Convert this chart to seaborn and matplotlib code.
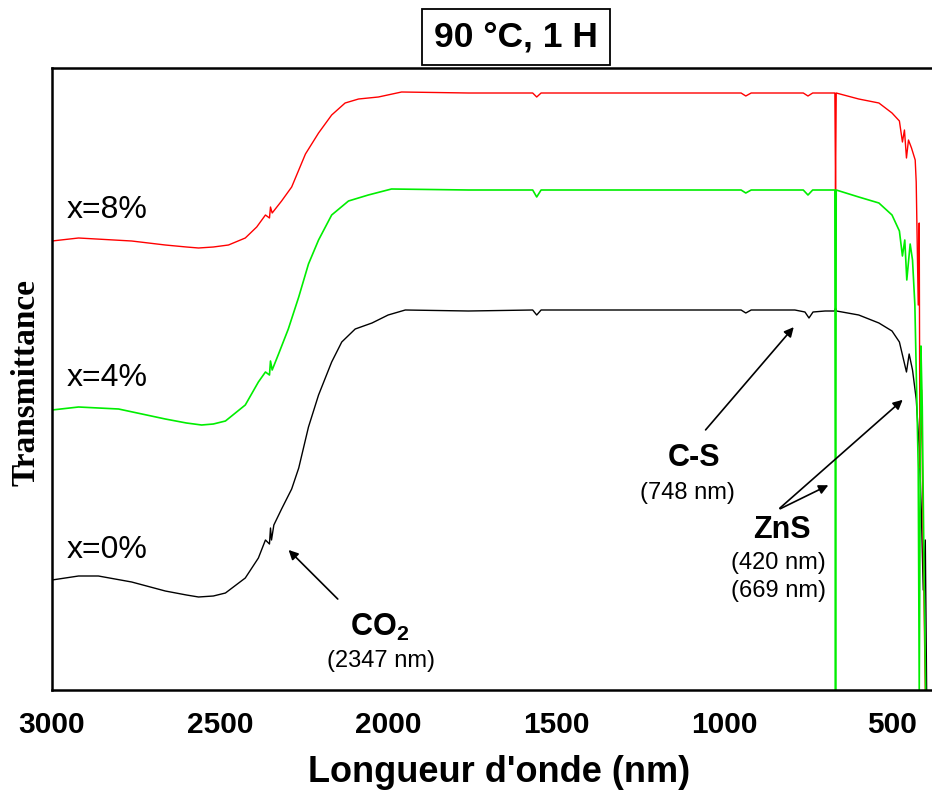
import matplotlib
matplotlib.use("Agg")
import matplotlib.pyplot as plt
import numpy as np
import pandas as pd
import seaborn as sns

# ---- data (wavelength in nm, transmittance in arbitrary offset units) ----
wl_0 = [3000, 2921, 2862, 2763, 2663, 2600, 2564, 2520, 2484, 2425, 2386, 2365, 2353, 2350, 2347, 2340,
        2317, 2287, 2266, 2237, 2207, 2168, 2138, 2098, 2048, 2000, 1949, 1761, 1570, 1558,
        1545, 1200, 950, 936, 920, 790, 760, 748, 736, 700, 672, 669, 666, 600, 540, 501,
        479, 465, 458, 450, 440, 429, 420, 414, 408, 402, 398]
t_0 = [110, 114, 114, 108, 99, 95, 93, 94, 97, 112, 132, 150, 146, 162, 150, 165,
       181, 201, 222, 263, 295, 328, 348, 361, 367, 375, 380, 379, 380, 375,
       380, 380, 380, 377, 380, 380, 378, 372, 378, 379, 379, 382, 379, 375, 367, 359,
       348, 328, 318, 336, 320, 291, 242, 181, 100, 150, 0]

wl_8 = [3000, 2921, 2763, 2663, 2600, 2564, 2520, 2475, 2425, 2391, 2365, 2353, 2350, 2345, 2317, 2287,
        2246, 2207, 2168, 2128, 2088, 2029, 1960, 1761, 1570, 1558, 1545, 1200, 950, 936,
        920, 765, 751, 737, 671, 669, 667, 600, 540, 501, 479, 470, 464, 458, 452, 443,
        432, 429, 423, 420, 418, 413, 408, 402]
t_8 = [449, 452, 449, 445, 443, 442, 443, 445, 452, 463, 475, 472, 483, 477, 489, 503,
       536, 557, 575, 587, 591, 593, 598, 597, 597, 593, 597, 597, 597, 594,
       597, 597, 594, 597, 597, 500, 597, 591, 587, 577, 569, 548, 560, 532, 550, 542,
       530, 508, 385, 467, 222, 300, 140, 0]

wl_4 = [3000, 2921, 2802, 2663, 2600, 2555, 2520, 2484, 2425, 2386, 2365, 2353, 2350, 2345, 2326, 2297,
        2266, 2237, 2207, 2168, 2118, 2059, 1990, 1761, 1570, 1558, 1545, 1200, 950, 936,
        920, 765, 751, 737, 671, 669, 667, 600, 540, 501, 479, 470, 463, 457, 447, 440,
        433, 423, 420, 415, 411, 405, 401]
t_4 = [280, 283, 281, 271, 267, 265, 266, 269, 285, 308, 318, 315, 329, 320, 336, 361,
       393, 426, 450, 475, 489, 495, 501, 500, 500, 493, 500, 500, 500, 497,
       500, 500, 495, 500, 500, 0, 500, 493, 487, 475, 459, 434, 450, 410, 446, 430,
       385, 222, 0, 344, 283, 100, 0]

samples = ["x=0%", "x=8%", "x=4%"]
colors = {"x=0%": "#000000", "x=8%": "#ff0000", "x=4%": "#00ee00"}
xticks = [3000, 2500, 2000, 1500, 1000, 500]
xminor = [2750, 2250, 1750, 1250, 750]

df = pd.concat([
    pd.DataFrame({"wl": wl_0, "T": t_0, "sample": "x=0%"}),
    pd.DataFrame({"wl": wl_8, "T": t_8, "sample": "x=8%"}),
    pd.DataFrame({"wl": wl_4, "T": t_4, "sample": "x=4%"}),
], ignore_index=True)

sns.set_style("white")
plt.rcParams['font.family'] = ['Liberation Sans', 'DejaVu Sans']
plt.rcParams['text.color'] = 'black'
plt.rcParams['xtick.color'] = 'black'
plt.rcParams['axes.labelcolor'] = 'black'
plt.rcParams['mathtext.fontset'] = 'custom'
plt.rcParams['mathtext.bf'] = 'Liberation Sans:bold'
plt.rcParams['mathtext.rm'] = 'Liberation Sans'

sans = ['Liberation Sans', 'DejaVu Sans']

fig = plt.figure(figsize=(9.32, 7.96), dpi=100)
ax = fig.add_axes([52/932, 106/796, 879/932, 622/796])

sns.lineplot(data=df, x="wl", y="T", hue="sample", hue_order=samples,
             palette=colors, estimator=None, sort=False, linewidth=1.0,
             legend=False, ax=ax)
ax.lines[-1].set_linewidth(1.2)

ax.set_xlim(3000, 385)
ax.set_ylim(0, 622)
ax.set_xticks(xticks)
ax.set_xticks(xminor, minor=True)
ax.set_xticklabels([str(v) for v in xticks], fontfamily=sans, fontweight='bold',
                   fontsize=21.5, color='black')
ax.set_yticks([])
ax.set_xlabel("")
ax.set_ylabel("")
for s in ["left", "bottom", "top"]:
    ax.spines[s].set_linewidth(1.8)
    ax.spines[s].set_color("black")
ax.spines["right"].set_visible(False)
ax.tick_params(axis='x', which='major', direction='out', length=11, width=1.6, pad=4, color='black')
ax.tick_params(axis='x', which='minor', direction='out', length=6, width=1.4, color='black')

# curve labels
for lab, yv in [("x=8%", 480), ("x=4%", 312), ("x=0%", 140)]:
    ax.text(2955, yv, lab, fontsize=23, ha='left', va='center', color='black')

# annotations
arrow = dict(arrowstyle="-|>", color='black', lw=1.2, mutation_scale=14)
ax.annotate("", xy=(2302, 142), xytext=(2144, 89), arrowprops=arrow)
ax.text(2025, 63, r"$\mathbf{CO_2}$", fontsize=22, ha='center', va='center', color='black')
ax.text(2020, 29, "(2347 nm)", fontsize=17, ha='center', va='center', color='black')

ax.annotate("", xy=(788, 365), xytext=(1061, 258), arrowprops=arrow)
ax.text(1091, 232, "C-S", fontsize=22, fontweight='bold', ha='center', va='center', color='black')
ax.text(1109, 197, "(748 nm)", fontsize=17, ha='center', va='center', color='black')

ax.annotate("", xy=(463, 292), xytext=(841, 180), arrowprops=arrow)
ax.annotate("", xy=(683, 206), xytext=(841, 180), arrowprops=arrow)
ax.text(829, 160, "ZnS", fontsize=22, fontweight='bold', ha='center', va='center', color='black')
ax.text(838, 127, "(420 nm)", fontsize=17, ha='center', va='center', color='black')
ax.text(838, 99, "(669 nm)", fontsize=17, ha='center', va='center', color='black')

# title in box
fig.text(516/932, 1 - 37/796, "90 °C, 1 H", fontsize=25.5, fontweight='bold',
         ha='center', va='center', color='black',
         bbox=dict(boxstyle='square,pad=0.33', facecolor='white', edgecolor='black', linewidth=1.3))

fig.text(499/932, 1 - 773/796, "Longueur d'onde (nm)", fontsize=26, fontweight='bold',
         family=sans, ha='center', va='center', color='black')
fig.text(26/932, 1 - 382/796, "Transmittance", fontsize=24, fontweight='bold',
         family=['Liberation Serif', 'DejaVu Serif'], rotation=90, ha='center', va='center',
         color='black')

fig.savefig("out.png", dpi=100)
